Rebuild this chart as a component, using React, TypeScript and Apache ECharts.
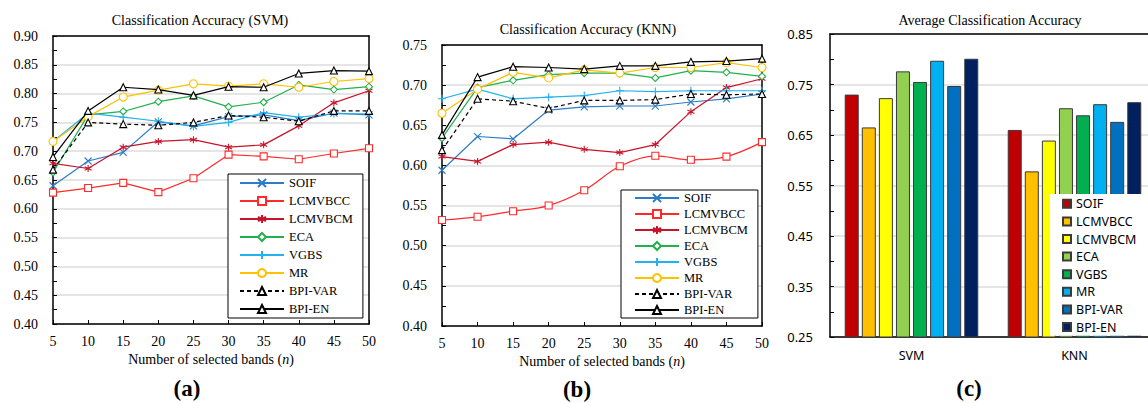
import React, { useEffect, useRef } from "react";
import * as echarts from "echarts";

const bands = [5, 10, 15, 20, 25, 30, 35, 40, 45, 50];
const methods = ["SOIF", "LCMVBCC", "LCMVBCM", "ECA", "VGBS", "MR", "BPI-VAR", "BPI-EN"];

// Panel (a) SVM
const svmSOIF = [0.640, 0.683, 0.698, 0.751, 0.744, 0.760, 0.763, 0.753, 0.766, 0.763];
const svmLCMVBCC = [0.628, 0.636, 0.645, 0.629, 0.653, 0.694, 0.691, 0.686, 0.696, 0.705];
const svmLCMVBCM = [0.679, 0.670, 0.707, 0.717, 0.720, 0.707, 0.711, 0.744, 0.784, 0.805];
const svmECA = [0.663, 0.763, 0.769, 0.786, 0.796, 0.777, 0.785, 0.815, 0.807, 0.812];
const svmVGBS = [0.717, 0.766, 0.759, 0.752, 0.743, 0.750, 0.767, 0.759, 0.765, 0.765];
const svmMR = [0.717, 0.760, 0.794, 0.806, 0.817, 0.813, 0.817, 0.811, 0.821, 0.826];
const svmBPIVAR = [0.668, 0.750, 0.747, 0.745, 0.750, 0.762, 0.759, 0.752, 0.770, 0.770];
const svmBPIEN = [0.690, 0.770, 0.811, 0.807, 0.797, 0.812, 0.811, 0.835, 0.840, 0.839];

// Panel (b) KNN
const knnSOIF = [0.594, 0.636, 0.633, 0.669, 0.673, 0.674, 0.674, 0.679, 0.683, 0.689];
const knnLCMVBCC = [0.532, 0.536, 0.543, 0.550, 0.569, 0.599, 0.612, 0.607, 0.611, 0.629];
const knnLCMVBCM = [0.611, 0.605, 0.626, 0.629, 0.620, 0.616, 0.626, 0.667, 0.697, 0.708];
const knnECA = [0.634, 0.697, 0.706, 0.713, 0.715, 0.715, 0.709, 0.718, 0.716, 0.711];
const knnVGBS = [0.683, 0.695, 0.683, 0.685, 0.687, 0.693, 0.692, 0.693, 0.693, 0.693];
const knnMR = [0.665, 0.695, 0.716, 0.709, 0.719, 0.715, 0.722, 0.722, 0.728, 0.722];
const knnBPIVAR = [0.619, 0.683, 0.680, 0.671, 0.681, 0.681, 0.682, 0.689, 0.688, 0.689];
const knnBPIEN = [0.638, 0.710, 0.723, 0.722, 0.720, 0.724, 0.724, 0.729, 0.730, 0.733];

// Panel (c) averages
const classifiers = ["SVM", "KNN"];
const avgSOIF = [0.730, 0.660];
const avgLCMVBCC = [0.665, 0.578];
const avgLCMVBCM = [0.723, 0.639];
const avgECA = [0.776, 0.703];
const avgVGBS = [0.755, 0.689];
const avgMR = [0.797, 0.711];
const avgBPIVAR = [0.747, 0.676];
const avgBPIEN = [0.801, 0.715];

const SERIF = "'Liberation Serif', 'Times New Roman', serif";
const SANS = "'Noto Sans', 'Liberation Sans', sans-serif";

const lineColors = ["#2E7BC6", "#FF2A2A", "#C8142A", "#22B04C", "#22B2EE", "#FFC000", "#000000", "#000000"];
const barColors = ["#C00000", "#FFC000", "#FFFF00", "#92D050", "#00B050", "#00B0F0", "#0070C0", "#002060"];
const symbols = [
  "path://M0,0L10,10M10,0L0,10",
  "rect",
  "path://M5,0L5,10M0.7,2.5L9.3,7.5M9.3,2.5L0.7,7.5",
  "diamond",
  "path://M5,0L5,10M0,5L10,5",
  "circle",
  "triangle",
  "triangle",
];
const symbolSizes = [7, 7, 7, 7, 8, 8, 7, 7];

const svmData = [svmSOIF, svmLCMVBCC, svmLCMVBCM, svmECA, svmVGBS, svmMR, svmBPIVAR, svmBPIEN];
const knnData = [knnSOIF, knnLCMVBCC, knnLCMVBCM, knnECA, knnVGBS, knnMR, knnBPIVAR, knnBPIEN];
const avgData = [avgSOIF, avgLCMVBCC, avgLCMVBCM, avgECA, avgVGBS, avgMR, avgBPIVAR, avgBPIEN];

function lineSeries(vals: number[][], axisIdx: number, panel: string) {
  return methods.map((name, i) => ({
    type: "line",
    name,
    xAxisIndex: axisIdx * 2,
    yAxisIndex: axisIdx * 2,
    data: bands.map((b, j) => [b, vals[i][j]]),
    symbol: symbols[i],
    symbolSize: symbolSizes[i],
    showSymbol: true,
    showAllSymbol: true,
    smooth: panel === "b" && name === "LCMVBCC" ? 0.35 : false,
    itemStyle: {
      color: "#ffffff",
      borderColor: lineColors[i],
      borderWidth: 1.1,
    },
    lineStyle: {
      color: lineColors[i],
      width: 1.2,
      type: name === "BPI-VAR" ? [4, 3] : "solid",
    },
    emphasis: { disabled: true },
    z: 2 + i,
  }));
}

function lineGridAxes(gridIndex: number, yMin: number, yMax: number) {
  const x = [
    {
      type: "value",
      gridIndex,
      min: 5,
      max: 50,
      interval: 5,
      position: "bottom",
      axisLine: { show: true, lineStyle: { color: "#000", width: 1.5 } },
      axisTick: { show: true, inside: true, length: 4, lineStyle: { color: "#000" } },
      axisLabel: { color: "#000", fontFamily: SERIF, fontSize: 14, margin: 10 },
      splitLine: { show: false },
      name: "Number of selected bands ({i|n})",
      nameLocation: "middle",
      nameGap: 26,
      nameTextStyle: {
        color: "#000",
        fontFamily: SERIF,
        fontSize: 14,
        rich: { i: { fontStyle: "italic", fontFamily: SERIF, fontSize: 14, color: "#000" } },
      },
    },
    {
      type: "value",
      gridIndex,
      min: 5,
      max: 50,
      interval: 5,
      position: "top",
      axisLine: { show: true, onZero: false, lineStyle: { color: "#000", width: 1.5 } },
      axisTick: { show: false },
      axisLabel: { show: false },
      splitLine: { show: false },
    },
  ];
  const y = [
    {
      type: "value",
      gridIndex,
      min: yMin,
      max: yMax,
      interval: 0.05,
      position: "left",
      axisLine: { show: true, lineStyle: { color: "#000", width: 1.5 } },
      axisTick: { show: true, inside: true, length: 4, lineStyle: { color: "#000" } },
      minorTick: { show: true, splitNumber: 2, length: 4, lineStyle: { color: "#000" } },
      axisLabel: {
        color: "#000",
        fontFamily: SERIF,
        fontSize: 14,
        margin: 15,
        formatter: (v: number) => v.toFixed(2),
      },
      splitLine: { show: true, lineStyle: { color: "#dcdcdc", width: 1.5 } },
    },
    {
      type: "value",
      gridIndex,
      min: yMin,
      max: yMax,
      interval: 0.05,
      position: "right",
      axisLine: { show: true, onZero: false, lineStyle: { color: "#000", width: 1.5 } },
      axisTick: { show: false },
      axisLabel: { show: false },
      splitLine: { show: false },
    },
  ];
  return { x, y };
}

function lineLegend(left: number, top: number, lineH: number, padLeft: number) {
  return {
    orient: "vertical",
    left,
    top,
    data: methods,
    itemWidth: 44,
    itemHeight: 10,
    itemGap: 0,
    selectedMode: false,
    backgroundColor: "#fff",
    borderColor: "#000",
    borderWidth: 1,
    borderRadius: 0,
    padding: [0, 10, 0, padLeft],
    textStyle: { color: "#000", fontFamily: SERIF, fontSize: 12.5, lineHeight: lineH, height: lineH },
  };
}

export default function App() {
  const ref = useRef<HTMLDivElement>(null);

  useEffect(() => {
    if (!ref.current) return;
    const chart = echarts.init(ref.current, undefined, { renderer: "svg" });

    const a = lineGridAxes(0, 0.4, 0.9);
    const b = lineGridAxes(1, 0.4, 0.75);

    const cX = [
      {
        type: "category",
        gridIndex: 2,
        data: classifiers,
        position: "bottom",
        axisLine: { show: true, lineStyle: { color: "#000", width: 1.5 } },
        axisTick: { show: false },
        axisLabel: { color: "#000", fontFamily: SANS, fontSize: 12.5, margin: 12 },
      },
      {
        type: "category",
        gridIndex: 2,
        data: classifiers,
        position: "top",
        axisLine: { show: true, onZero: false, lineStyle: { color: "#000", width: 1.5 } },
        axisTick: { show: false },
        axisLabel: { show: false },
      },
    ];
    const cY = [
      {
        type: "value",
        gridIndex: 2,
        min: 0.25,
        max: 0.85,
        interval: 0.1,
        axisLine: { show: true, lineStyle: { color: "#000", width: 1.5 } },
        axisTick: { show: true, inside: true, length: 4, lineStyle: { color: "#000" } },
        minorTick: { show: true, splitNumber: 2, length: 4, lineStyle: { color: "#000" } },
        axisLabel: {
          color: "#000",
          fontFamily: SANS,
          fontSize: 13,
          margin: 17,
          formatter: (v: number) => v.toFixed(2),
        },
        splitLine: { show: true, lineStyle: { color: "#dcdcdc", width: 1.5 } },
      },
    ];

    const barSeries = methods.map((name, i) => ({
      type: "bar",
      name: name + " (c)",
      xAxisIndex: 4,
      yAxisIndex: 4,
      data: avgData[i],
      barWidth: 14,
      barGap: "22%",
      itemStyle: { color: barColors[i], borderColor: "#3a3a3a", borderWidth: 1 },
      emphasis: { disabled: true },
    }));

    const option = {
      animation: false,
      backgroundColor: "#fff",
      grid: [
        { left: 53, top: 36, width: 316, height: 288, containLabel: false },
        { left: 442, top: 45, width: 320, height: 281, containLabel: false },
        { left: 830, top: 34, width: 326, height: 303, containLabel: false },
      ],
      xAxis: [...a.x, ...b.x, ...cX],
      yAxis: [...a.y, ...b.y, ...cY],
      legend: [
        lineLegend(228, 174, 18, 11),
        lineLegend(621, 190, 16, 13),
        {
          orient: "vertical",
          left: 1050,
          top: 194,
          data: methods.map((m) => m + " (c)"),
          formatter: (n: string) => n.replace(" (c)", ""),
          icon: "rect",
          itemWidth: 8,
          itemHeight: 8,
          itemGap: 0,
          selectedMode: false,
          backgroundColor: "#fff",
          borderWidth: 0,
          padding: [1, 40, 0, 12],
          textStyle: { color: "#000", fontFamily: SANS, fontSize: 12.5, lineHeight: 17.6, height: 17.6 },
        },
      ],
      graphic: [
        { type: "text", x: 200, y: 20, style: { text: "Classification Accuracy (SVM)", align: "center", verticalAlign: "middle", font: `14px ${SERIF}`, fill: "#000" } },
        { type: "text", x: 588, y: 29, style: { text: "Classification Accuracy (KNN)", align: "center", verticalAlign: "middle", font: `14px ${SERIF}`, fill: "#000" } },
        { type: "text", x: 990, y: 20, style: { text: "Average Classification Accuracy", align: "center", verticalAlign: "middle", font: `14px ${SERIF}`, fill: "#000" } },
        { type: "text", x: 187, y: 388, style: { text: "(a)", align: "center", verticalAlign: "middle", font: `bold 23px ${SERIF}`, fill: "#000" } },
        { type: "text", x: 577, y: 389, style: { text: "(b)", align: "center", verticalAlign: "middle", font: `bold 23px ${SERIF}`, fill: "#000" } },
        { type: "text", x: 969, y: 388, style: { text: "(c)", align: "center", verticalAlign: "middle", font: `bold 23px ${SERIF}`, fill: "#000" } },
      ],
      series: [...lineSeries(svmData, 0, "a"), ...lineSeries(knnData, 1, "b"), ...barSeries],
    };

    chart.setOption(option as any);
    return () => chart.dispose();
  }, []);

  return (
    <div style={{ position: "absolute", left: 0, top: 0, width: 1148, height: 403, overflow: "hidden", background: "#fff" }}>
      <div ref={ref} style={{ width: 1170, height: 403 }} />
    </div>
  );
}
